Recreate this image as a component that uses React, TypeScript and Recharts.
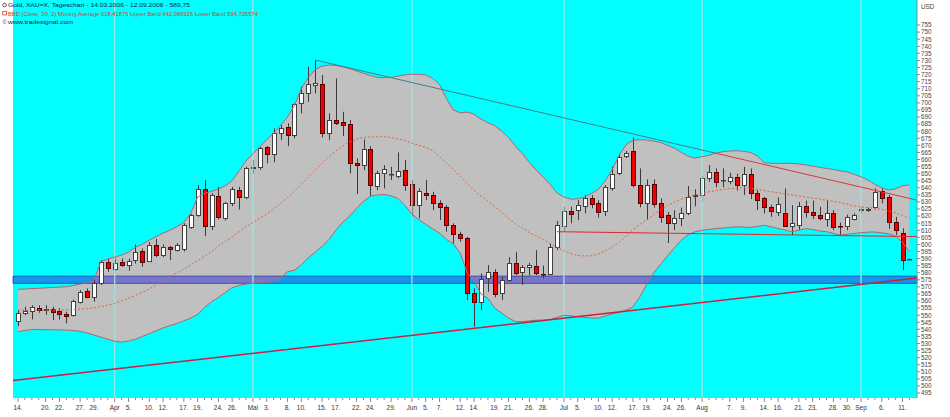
import React from "react";
import {
  ComposedChart,
  Bar,
  Line,
  Area,
  XAxis,
  YAxis,
  CartesianGrid,
  ReferenceLine,
  ReferenceArea,
} from "recharts";

// Gold XAU=X daily, 14.03.2006 - 12.09.2006
const DATES = [
  "14.03", "15.03", "16.03", "17.03", "20.03", "21.03", "22.03", "23.03", "24.03", "27.03", "28.03", "29.03", "30.03", "31.03",
  "03.04", "04.04", "05.04", "06.04", "07.04", "10.04", "11.04", "12.04", "13.04", "14.04", "17.04", "18.04", "19.04", "20.04", "21.04", "24.04", "25.04", "26.04", "27.04", "28.04",
  "01.05", "02.05", "03.05", "04.05", "05.05", "08.05", "09.05", "10.05", "11.05", "12.05", "15.05", "16.05", "17.05", "18.05", "19.05", "22.05", "23.05", "24.05", "25.05", "26.05", "29.05", "30.05", "31.05",
  "01.06", "02.06", "05.06", "06.06", "07.06", "08.06", "09.06", "12.06", "13.06", "14.06", "15.06", "16.06", "19.06", "20.06", "21.06", "22.06", "23.06", "26.06", "27.06", "28.06", "29.06", "30.06",
  "03.07", "04.07", "05.07", "06.07", "07.07", "10.07", "11.07", "12.07", "13.07", "14.07", "17.07", "18.07", "19.07", "20.07", "21.07", "24.07", "25.07", "26.07", "27.07", "28.07",
  "01.08", "02.08", "03.08", "04.08", "07.08", "08.08", "09.08", "10.08", "11.08", "14.08", "15.08", "16.08", "17.08", "18.08", "21.08", "22.08", "23.08", "24.08", "25.08", "28.08", "29.08", "30.08", "31.08",
  "01.09", "04.09", "05.09", "06.09", "07.09", "08.09", "11.09", "12.09",
]

const OPEN = [
  546, 551.7, 553, 554.8, 554, 554.3, 552.7, 550.8, 549.8, 559.5,
  567, 563, 572.9, 587.7, 582.3, 587.7, 585.2, 588.9, 595.3, 588.4,
  599.5, 592.5, 598.3, 596, 596.5, 612.5, 620.7, 638.9, 613, 634.2,
  618.4, 629.4, 638.4, 633.7, 654, 654.9, 668.6, 663.8, 678.9, 682.7,
  677.3, 699.7, 707.2, 712.6, 713.3, 678.5, 687.9, 686.4, 684.8, 657.3,
  656.1, 667.4, 641.2, 650.2, 649.5, 648.5, 652.5, 642.4, 627.8, 636.5,
  634.9, 629, 626.6, 613.7, 607.1, 604.3, 565.8, 559.5, 576, 580.3,
  565.4, 574.8, 587, 580.7, 584.2, 584.7, 579.3, 579.1, 598.3, 613,
  623.6, 624.3, 627.1, 633, 629, 623.6, 639.6, 650.2, 662.4, 666.2,
  641.9, 629.4, 642.4, 629, 620.7, 614.9, 618.4, 621.9, 634.5, 634.9,
  646.7, 651.3, 645.3, 644.8, 647.4, 641.9, 649.7, 636.5, 632.5, 626.6,
  623.1, 621.9, 613, 613.7, 627.1, 623.1, 620.7, 617.7, 621.9, 613.2,
  613, 617.7, 624.5, 624.5, 626.2, 637.9, 633.3, 616, 607.8, 589.75,
]
const HIGH = [
  553.6, 556, 557, 557, 557, 556, 555, 552.4, 561, 567.7,
  568.9, 574.8, 588.9, 590.1, 590.1, 590.1, 590.1, 599.9, 597.2, 601.7,
  604, 600, 599, 601, 615, 621.5, 641.9, 645.5, 636.3, 640.7,
  630, 640.7, 640.7, 655, 659.6, 669, 669.5, 682, 684.3, 685.5,
  699.6, 711.4, 725.5, 730.3, 719.7, 692.6, 717.3, 693.7, 687.9, 660.8,
  674.2, 669.5, 652, 656, 654.9, 665, 659.6, 645.5, 639.6, 645.5,
  637.2, 631.3, 627.8, 614.9, 609, 605.4, 569, 579.5, 585.4, 582.4,
  577.1, 591, 594.8, 585.4, 587, 596, 585, 600.6, 616.6, 626.6,
  626.6, 631.3, 634.9, 634.9, 631.3, 642, 655, 664, 666, 675.6,
  653.7, 645.9, 646, 632.5, 623, 624.3, 626, 641.2, 639, 648.3,
  656.1, 653.7, 653.7, 650.6, 650, 654.9, 653.7, 638.4, 633.7, 628,
  633.3, 639.6, 627.8, 630, 631, 631, 626.6, 631, 624.3, 615.5,
  621, 622, 627, 626, 639.6, 640, 634.9, 619.5, 611.4, 590.2,
]
const LOW = [
  542.3, 550, 547, 551.7, 550.3, 546.5, 547, 544.2, 549, 558.3,
  561.9, 559.5, 571.3, 580.7, 581.4, 584.2, 581.4, 586.5, 584.2, 587.7,
  591, 591, 589, 595, 595, 611, 619.5, 605.9, 610.1, 617.7,
  617, 627, 624.7, 632, 649.7, 652.8, 657.3, 658, 673.7, 669.5,
  675, 692.6, 700.8, 706.7, 675.6, 673.7, 684.3, 676.6, 650.2, 635.6,
  652.5, 634.2, 638.4, 639.6, 645.5, 646.7, 637.9, 619.5, 618.4, 631.3,
  624.3, 617.2, 609, 600.6, 601.9, 560.7, 541.8, 553.6, 566.5, 562.6,
  560.7, 574, 578.3, 571.3, 578, 578.3, 576, 578.3, 596, 609,
  615, 617.2, 622, 625.6, 619, 620, 638, 649, 661, 640.3,
  626.2, 617.2, 626, 615.3, 601, 610.1, 613, 620.7, 627, 630,
  644.3, 640.3, 640.3, 642.5, 638, 635, 632, 624.3, 621.9, 619.5,
  620, 612.5, 606.6, 610, 619, 617.9, 617, 612.5, 610, 606.6,
  610, 617, 622, 623, 624.7, 629, 611, 606.6, 581.9, 589.6,
]
const CLOSE = [
  551.3, 553, 555.5, 553.6, 554.2, 552.2, 551, 549.2, 560.2, 566.5,
  563, 572.9, 587.7, 583.1, 587, 585.2, 588.4, 594.8, 587.7, 599.5,
  592.5, 598.3, 596.5, 599.5, 613.7, 620.7, 638.9, 613, 634.9, 619.1,
  629.4, 638.9, 633.3, 653.7, 655, 667.9, 663.8, 678.9, 682, 677.3,
  699.2, 707.2, 713.3, 714.2, 678.5, 687.9, 686, 684.1, 657.3, 655.8,
  667.2, 641.9, 650.6, 653, 650, 652, 641.9, 627.8, 637.9, 634.9,
  629.4, 626.2, 613.7, 607.4, 604.3, 565.8, 559.5, 575.5, 580.7, 564.9,
  574.8, 586.6, 580, 584.2, 585.4, 579.6, 579, 598.3, 613.7, 623.8,
  621.4, 627.8, 633, 628.3, 623.1, 640.3, 649.7, 661.9, 664.3, 641.9,
  629.4, 641.9, 628.5, 619.5, 614.9, 618.4, 622.4, 633.7, 635.2, 646.7,
  651.3, 644.3, 645.8, 647.8, 641.9, 649.7, 636.5, 631.3, 626.2, 623.8,
  628.5, 613, 614.9, 627.1, 623.1, 620.7, 618.4, 622.4, 612.5, 612.8,
  619.1, 620.7, 625, 625, 637.2, 632.5, 616, 610.1, 588.9, 589.75,
]

// BBD (Close, 20, 2)
const UPPER = [
  568.3, 568.5, 568.8, 569, 569.3, 569.6, 569.9, 570.1, 571, 572,
  573, 574.5, 588, 589.5, 591, 592.5, 594.5, 598, 600, 603,
  605.5, 608, 610, 612.5, 615.5, 622, 633.5, 636, 637.5, 639,
  641.5, 645, 652, 659, 664, 669, 674, 678.5, 684, 690,
  698, 710, 718, 723.5, 726, 726.7, 726.5, 725.5, 724.2, 722.5,
  721, 719.3, 718, 717.8, 718, 719, 719.8, 720.3, 720.2, 719.8,
  717.5, 713, 703, 695, 693, 693.5, 692, 688.5, 686, 684,
  680, 675.5, 669.5, 664, 658, 652.5, 647.5, 642.5, 636.5, 633.5,
  632, 632.2, 633.5, 636, 639, 645, 653, 663, 670.5, 673.5,
  674, 673.7, 673, 672, 670, 668, 665, 662.3, 661, 662,
  663, 664.5, 665.5, 666, 666.2, 665.8, 665, 662.5, 657.7, 657.3,
  657.3, 657.3, 657.3, 656.8, 656.2, 655.3, 654.5, 653.7, 653, 652,
  651.2, 649.5, 647.8, 645.5, 642.5, 640, 638.4, 639.3, 641.5, 642.1,
]
const LOWER = [
  538.4, 539.2, 539.8, 539.9, 539.8, 539.7, 539.6, 539.5, 539.2, 538.6,
  537.5, 536, 534.5, 533, 531.5, 531, 531.8, 533, 535, 537,
  539, 541, 542.6, 544.2, 546, 548, 550.5, 555.5, 559.5, 562.5,
  566, 569.5, 571, 572, 572.5, 573, 573.3, 573.8, 576.5, 580.7,
  581.8, 585.5, 590.5, 594.5, 598.5, 603.5, 610, 615.8, 620, 625.5,
  630.5, 634, 635, 635.3, 634.3, 632.5, 627.5, 621.5, 617.5, 614.2,
  611, 608, 603.5, 600.5, 594, 580, 574, 565, 562, 555,
  551.5, 548, 545.5, 545.5, 546, 546.5, 546.5, 547, 548.5, 550,
  549.5, 549, 548.5, 548, 548, 549.5, 551, 552, 553.5, 556,
  563, 572, 580, 586, 592, 597.5, 603, 607, 609, 610,
  610.6, 611.2, 611.6, 612, 612.5, 612.3, 612, 612.8, 613.5, 612.5,
  611.2, 610.2, 609, 610, 611.2, 610.5, 609.5, 609, 607.8, 606.6,
  607.2, 607.8, 608.3, 608.7, 608.8, 608.2, 607.5, 605.8, 601.5, 595,
]
const MID = [
  553.5, 553.5, 553.6, 553.6, 553.7, 553.7, 553.8, 553.8, 554, 554.3,
  554.6, 555.2, 556, 557, 558.3, 560, 562, 564, 566, 568.5,
  571.5, 574.5, 577.3, 580, 582.5, 585.5, 588.5, 591.5, 595, 599,
  602, 605.5, 609, 612.5, 615.5, 618.5, 621.5, 625, 629, 633,
  637.5, 642.5, 647.5, 652.5, 657.5, 662, 666, 669.5, 672.5, 674.5,
  675.5, 676, 676.1, 676.1, 675.5, 674.5, 673.5, 671.5, 670, 668.5,
  666.5, 662, 657.5, 653, 648, 643, 638, 634, 630.5, 626.5,
  622.5, 618.5, 614.5, 611.5, 608.5, 606, 603.5, 600.5, 598, 595.5,
  593.5, 592.3, 591.8, 592, 593.2, 595.5, 598.3, 601.5, 606, 610.5,
  614, 617.5, 621, 624.5, 627.5, 629.8, 632, 633.7, 635, 636.1,
  637.2, 638, 638.8, 639.4, 639.8, 640, 639.8, 639, 638, 637.2,
  636.5, 635.8, 635, 634.2, 633.5, 632.8, 632, 631.3, 630.5, 629.5,
  628.5, 627.3, 626.5, 626, 625.5, 624.7, 623.7, 622.3, 620.5, 618.4,
]

const TICK_IDX = [
  0, 4, 6, 9, 11, 14, 16, 19, 21, 24, 26, 29, 31, 34, 36, 39, 41, 44, 46, 49, 51, 54,
  57, 59, 61, 64, 66, 69, 71, 74, 76, 79, 81, 84, 86, 89, 91, 94, 96,
  99, 103, 105, 108, 110, 113, 115, 118, 120, 122, 125, 128,
]
const TICK_TEXT = [
  "14.", "20.", "22.", "27.", "29.", "Apr", "5.", "10.", "12.", "17.", "19.", "24.", "26.", "Mai", "3.", "8.", "10.", "15.", "17.", "22.", "24.", "29.",
  "Jun", "5.", "7.", "12.", "14.", "19.", "21.", "26.", "28.", "Jul", "5.", "10.", "12.", "17.", "19.", "24.", "26.",
  "Aug", "7.", "9.", "14.", "16.", "21.", "23.", "28.", "30.", "Sep", "6.", "11.",
]
const MONTH_IDX = [14, 34, 57, 79, 99, 122]
const Y_TICKS = [
  495, 500, 505, 510, 515, 520, 525, 530, 535, 540, 545, 550, 555, 560, 565, 570, 575, 580, 585, 590,
  595, 600, 605, 610, 615, 620, 625, 630, 635, 640, 645, 650, 655, 660, 665, 670, 675, 680, 685, 690,
  695, 700, 705, 710, 715, 720, 725, 730, 735, 740, 745, 750, 755,
]

// drawn lines / zone
const X_MIN = -0.72
const X_MAX = 130.1
const TREND_LOW = [{ x: X_MIN, y: 503.9 }, { x: X_MAX, y: 576.2 }]
const TREND_HIGH = [{ x: 43, y: 730.3 }, { x: 101.2, y: 664.2 }, { x: X_MAX, y: 631.3 }]
const SUPPORT_LINE = [{ x: 78, y: 609 }, { x: X_MAX, y: 605.5 }]
const ZONE = [572.5, 577.6]

const data = DATES.map((d, i) => ({
  i,
  date: d,
  o: OPEN[i],
  h: HIGH[i],
  l: LOW[i],
  c: CLOSE[i],
  range: [LOW[i], HIGH[i]],
  band: [LOWER[i], UPPER[i]],
  upper: UPPER[i],
  lower: LOWER[i],
  mid: MID[i],
}))

const Candle = (props: any) => {
  const { x, y, width, height, payload } = props
  if (x == null || y == null) return null
  const { o, h, l, c } = payload
  const k = height / (h - l || 1)
  const cx = Math.round(x + width / 2) + 0.5
  const top = Math.round(y + (h - Math.max(o, c)) * k) + 0.5
  const bot = Math.round(y + (h - Math.min(o, c)) * k) + 0.5
  const up = c >= o
  return (
    <g>
      <line x1={cx} x2={cx} y1={y} y2={y + height} stroke="#3a3a3a" strokeWidth={1} />
      <rect
        x={cx - 2}
        y={top}
        width={4}
        height={Math.max(bot - top, 0.5)}
        fill={up ? "#ffffff" : "#ee0000"}
        stroke={up ? "#404040" : "#5a0000"}
        strokeWidth={1}
      />
    </g>
  )
}

const XTick = (props: any) => {
  const { x, y, payload } = props
  const k = TICK_IDX.indexOf(payload.value)
  return (
    <g>
      <line x1={x} x2={x} y1={y} y2={y + (k >= 0 ? 4 : 2)} stroke="#8a8a8a" />
      {k >= 0 && (
        <text x={x} y={y + 11.5} textAnchor="middle" fontSize={6.5} fill="#333" fontFamily="Liberation Sans, Arial">
          {TICK_TEXT[k]}
        </text>
      )}
    </g>
  )
}

const YTick = (props: any) => {
  const { x, y, payload } = props
  return (
    <g>
      <line x1={x} x2={x + 3} y1={y} y2={y} stroke="#8a8a8a" />
      <text x={x + 4} y={y + 2.3} fontSize={6.3} fill="#444" fontFamily="Liberation Sans, Arial">
        {payload.value}
      </text>
    </g>
  )
}

export default function App() {
  return (
    <div style={{ position: "absolute", left: 0, top: 0, width: 950, height: 417, background: "#fff" }}>
      <ComposedChart width={950} height={417} data={data} margin={{ top: 0, right: 0, bottom: 0, left: 13 }}>
        <CartesianGrid fill="#00ffff" horizontal={false} vertical={false} stroke="none" />
        <XAxis
          dataKey="i"
          type="number"
          domain={[X_MIN, X_MAX]}
          ticks={DATES.map((_, i) => i)}
          interval={0}
          tick={<XTick />}
          tickLine={false}
          axisLine={false}
          tickSize={0}
          tickMargin={0}
          height={19}
          allowDataOverflow
        />
        <YAxis
          orientation="right"
          type="number"
          domain={[491.5, 772.7]}
          ticks={Y_TICKS}
          interval={0}
          tick={<YTick />}
          tickLine={false}
          axisLine={{ stroke: "#5f9ea0" }}
          tickSize={0}
          tickMargin={0}
          width={33}
          allowDataOverflow
        />
        {MONTH_IDX.map((m) => (
          <ReferenceLine key={m} x={m} stroke="#7ff0e8" strokeWidth={1} />
        ))}
        <Area dataKey="band" fill="#c0c0c0" fillOpacity={1} stroke="none" isAnimationActive={false} />
        {MONTH_IDX.map((m) => (
          <ReferenceLine key={"g" + m} x={m} stroke="#cfd6d4" strokeOpacity={0.6} strokeWidth={1} />
        ))}
        <Line dataKey="upper" stroke="#b0666e" strokeWidth={1} dot={false} isAnimationActive={false} />
        <Line dataKey="lower" stroke="#b0666e" strokeWidth={1} dot={false} isAnimationActive={false} />
        <Line dataKey="mid" stroke="#e0623e" strokeWidth={1} strokeDasharray="2 2" dot={false} isAnimationActive={false} />
        <ReferenceLine segment={[TREND_HIGH[0], TREND_HIGH[1]]} stroke="#3f7f8a" strokeWidth={1} />
        <ReferenceLine segment={[TREND_HIGH[1], TREND_HIGH[2]]} stroke="#d43c3c" strokeWidth={1} />
        <ReferenceLine segment={SUPPORT_LINE} stroke="#dd2a2a" strokeWidth={1} />
        <ReferenceLine segment={TREND_LOW} stroke="#c8203a" strokeWidth={1.5} />
        <ReferenceArea y1={ZONE[0]} y2={ZONE[1]} fill="#2a24d5" fillOpacity={0.48} stroke="#1c2f9a" strokeOpacity={0.7} />
        <Bar dataKey="range" barSize={5} shape={<Candle />} isAnimationActive={false} />
      </ComposedChart>
      <svg width={950} height={30} style={{ position: "absolute", left: 0, top: 0, pointerEvents: "none" }}>
        <g fontFamily="Liberation Sans, Arial" fontSize={5.8}>
          <circle cx={4.5} cy={5} r={1.8} fill="none" stroke="#303050" strokeWidth={0.8} />
          <text x={8} y={7.3} fill="#202048" textLength={182} lengthAdjust="spacingAndGlyphs">
            Gold, XAU=X, Tageschart - 14.03.2006 - 12.09.2006 - 589,75
          </text>
          <rect x={2.8} y={11.3} width={3.6} height={3.6} fill="none" stroke="#d83a2a" strokeWidth={0.8} />
          <text x={8} y={15.5} fill="#d83a2a" textLength={250} lengthAdjust="spacingAndGlyphs">
            BBD (Close, 20, 2) Moving Average 618,41875 Upper Band 642,095926 Lower Band 594,725574
          </text>
          <text x={2.5} y={24} fill="#303050" fontSize={5.5}>©</text>
          <text x={8} y={24} fill="#202048" textLength={65} lengthAdjust="spacingAndGlyphs">
            www.tradesignal.com
          </text>
        </g>
        <text x={921} y={9} fontSize={6.3} fill="#444" fontFamily="Liberation Sans, Arial">USD</text>
      </svg>
    </div>
  )
}
